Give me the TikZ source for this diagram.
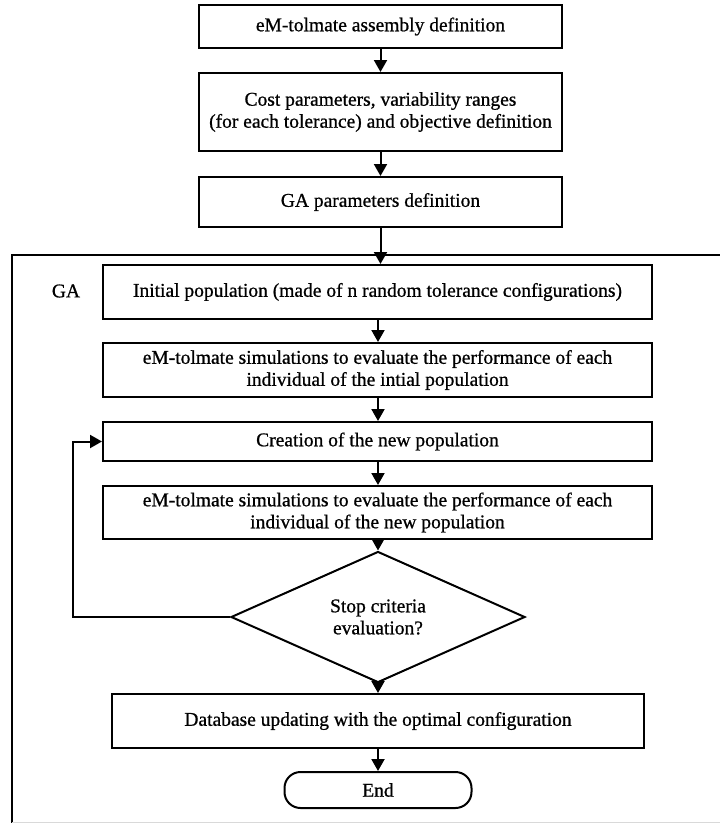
\documentclass[tikz,border=0pt]{standalone}
\usepackage{fontspec}
\setmainfont{Liberation Serif}[FakeBold=0.8]
\usetikzlibrary{arrows.meta,shapes.geometric}

\tikzset{
  box/.style={draw,line width=2pt,align=center,inner sep=0pt,minimum height=#1},
  box/.default=40pt,
  decision/.style={draw,diamond,line width=2pt,align=center,inner sep=0pt,
    minimum width=294pt,minimum height=102pt},
  term/.style={draw,line width=2pt,rounded corners=16pt,minimum width=187pt,minimum height=36pt},
  flow/.style={line width=2pt,-{Triangle[length=12pt,width=13pt]}}
}

\begin{document}
\begin{tikzpicture}[x=1pt,y=1pt,font=\fontsize{19.5}{22}\selectfont]
  \useasboundingbox (0,0) rectangle (720,-823);
  \begin{scope}
    \node[box=43pt,minimum width=363pt] (assembly) at (380.5,-26.5) {eM-tolmate assembly definition};
    \node[box=78pt,minimum width=363pt] (cost) at (380.5,-112) {Cost parameters, variability ranges\\(for each tolerance) and objective definition};
    \node[box=50pt,minimum width=363pt] (gapar) at (380.5,-202) {GA parameters definition};

    \draw[line width=2pt] (12,-823) -- (12,-255) -- (722,-255);
    \draw[line width=1pt,black!15] (12,-822) -- (722,-822);
    \node (galabel) at (66,-291) {GA};

    \node[box=54pt,minimum width=549pt] (initpop) at (377.5,-292) {Initial population (made of n random tolerance configurations)};
    \node[box=54pt,minimum width=549pt] (siminit) at (377.5,-370) {eM-tolmate simulations to evaluate the performance of each\\individual of the intial population};
    \node[box=39pt,minimum width=549pt] (newpop) at (377.5,-441.5) {Creation of the new population};
    \node[box=53pt,minimum width=549pt] (simnew) at (377.5,-512.5) {eM-tolmate simulations to evaluate the performance of each\\individual of the new population};
    \node[decision] (stop) at (378,-617) {Stop criteria\\evaluation?};
    \node[box=54pt,minimum width=532pt] (database) at (378,-721) {Database updating with the optimal configuration};
    \node[term] (end) at (378,-790) {End};
    \coordinate (loopcorner) at (73,-617);

    \draw[flow] (assembly) -- (cost);
    \draw[flow] (cost) -- (gapar);
    \draw[flow] (gapar.south) -- (gapar.south |- initpop.north);
    \draw[flow] (initpop.south -| stop) -- (siminit.north -| stop);
    \draw[flow] (siminit.south -| stop) -- (newpop.north -| stop);
    \draw[flow] (newpop.south -| stop) -- (simnew.north -| stop);
    \draw[flow] (simnew.south -| stop) -- (stop.north);
    \draw[flow] (stop.west) -- (loopcorner) |- (newpop.west);
    \draw[flow] (stop.south) -- (database.north -| stop);
    \draw[flow] (database.south -| stop) -- (end);
  \end{scope}
\end{tikzpicture}
\end{document}
